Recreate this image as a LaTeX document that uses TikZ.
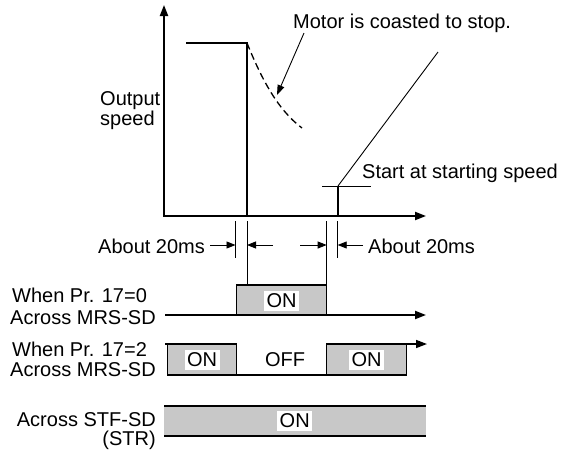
\documentclass[tikz,border=0pt]{standalone}
\usepackage{fontspec}
\setmainfont{Liberation Sans}
\usetikzlibrary{arrows.meta,calc}
\definecolor{sigGray}{RGB}{200,200,200}

\begin{document}
\begin{tikzpicture}[x=1pt,y=-1pt,font=\fontsize{20}{22}\selectfont,
    axis/.style={line width=2pt,-{Triangle[length=11pt,width=8pt]}},
    speed/.style={line width=2pt},
    hair/.style={line width=0.9pt},
    dimarrow/.style={line width=0.9pt,-{Triangle[length=9pt,width=7pt]}},
    lbl/.style={inner sep=0pt},
    onlabel/.style={fill=white,inner sep=2.5pt},
    sigbox/.style={fill=sigGray,draw,line width=1.2pt}]
    \useasboundingbox (0,0) rectangle (566,456);
    % speed chart
    \coordinate (O) at (164,216);
    \coordinate (yend) at (164,5);
    \coordinate (xend) at (426,216);
    \coordinate (runL) at (186,43);
    \coordinate (runR) at (247,43);
    \coordinate (cutB) at (247,216);
    \coordinate (coastE) at (302,128);
    \coordinate (restB) at (338,216);
    \coordinate (restT) at (338,186);
    \coordinate (levL) at (322,186);
    \coordinate (levR) at (371,186);
    \coordinate (rampE) at (438,52);
    \draw[axis] (O) -- (yend);
    \draw[axis] ($(O)+(-1,0)$) -- (xend);
    \draw[speed] (runL) -- (runR) -- (cutB);
    \draw[line width=1.3pt,dash pattern=on 7pt off 4pt] (runR) .. controls (262,80) and (278,110) .. (coastE);
    \draw[speed] (restB) -- (restT);
    \draw[hair] (levL) -- (levR);
    \draw[hair] (restT) -- (rampE);
    \node[lbl,anchor=base west] (coast) at (293,28) {Motor is coasted to stop.};
    \coordinate (coastTip) at (277,95);
    \draw[hair,-{Triangle[length=10pt,width=7pt]}] (304,33) -- (coastTip);
    \node[lbl,anchor=base west] (out1) at (100,105) {Output};
    \node[lbl,anchor=base west] (out2) at (100,125) {speed};
    \node[lbl,anchor=base west] (start) at (362,178) {Start at starting speed};
    % 20ms marks
    \coordinate (t1) at (235.5,221);
    \coordinate (t2) at (247,221);
    \coordinate (t3) at (326.7,221);
    \coordinate (t4) at (337.7,221);
    \draw[hair] (t1) -- ++(0,37);
    \draw[hair] (t2) -- ++(0,64);
    \draw[hair] (t3) -- ++(0,64);
    \draw[hair] (t4) -- ++(0,37);
    \node[lbl,anchor=base west] (ms1) at (98,253) {About 20ms};
    \node[lbl,anchor=base west] (ms2) at (368,253) {About 20ms};
    \draw[dimarrow] ($(ms1.east |- t1)+(5,24)$) -- ($(t1)+(0,24)$);
    \draw[dimarrow] (273,245) -- ($(t2)+(0,24)$);
    \draw[dimarrow] (300,245) -- ($(t3)+(0,24)$);
    \draw[dimarrow] ($(ms2.west |- t4)+(-5,24)$) -- ($(t4)+(0,24)$);
    % Pr. 17=0
    \node[lbl,anchor=base west] (w0) at (12,302) {When Pr. 17=0};
    \node[lbl,anchor=base east] (a0) at (156,324) {Across MRS-SD};
    \draw[sigbox] (236.7,285) rectangle (326.7,315);
    \draw[axis] (165,315) -- (426,315);
    \node[onlabel] (on0) at (281.5,301) {ON};
    % Pr. 17=2
    \node[lbl,anchor=base west] (w2) at (12,356) {When Pr. 17=2};
    \node[lbl,anchor=base east] (a2) at (156,376) {Across MRS-SD};
    \draw[sigbox] (167.7,344) rectangle (236.7,375);
    \draw[sigbox] (326.7,344) rectangle (406.7,375);
    \draw[line width=1.2pt] (165,344) -- (167.7,344);
    \draw[line width=1.2pt] (236.7,375) -- (326.7,375);
    \draw[line width=1.5pt,-{Triangle[length=11pt,width=8pt]}] (326.7,344) -- (427,344);
    \node[onlabel] (on2a) at (202,360) {ON};
    \node[lbl] (off2) at (285,360) {OFF};
    \node[onlabel] (on2b) at (366.5,360) {ON};
    % STF
    \node[lbl,anchor=base east] (stf) at (156,426) {Across STF-SD};
    \node[lbl,anchor=base east] (str) at (156,445) {(STR)};
    \fill[sigGray] (164,406) rectangle (426,436);
    \draw[speed] (164,406) -- (426,406);
    \draw[speed] (164,436) -- (426,436);
    \node[onlabel] (onS) at (294.7,421) {ON};
\end{tikzpicture}
\end{document}
